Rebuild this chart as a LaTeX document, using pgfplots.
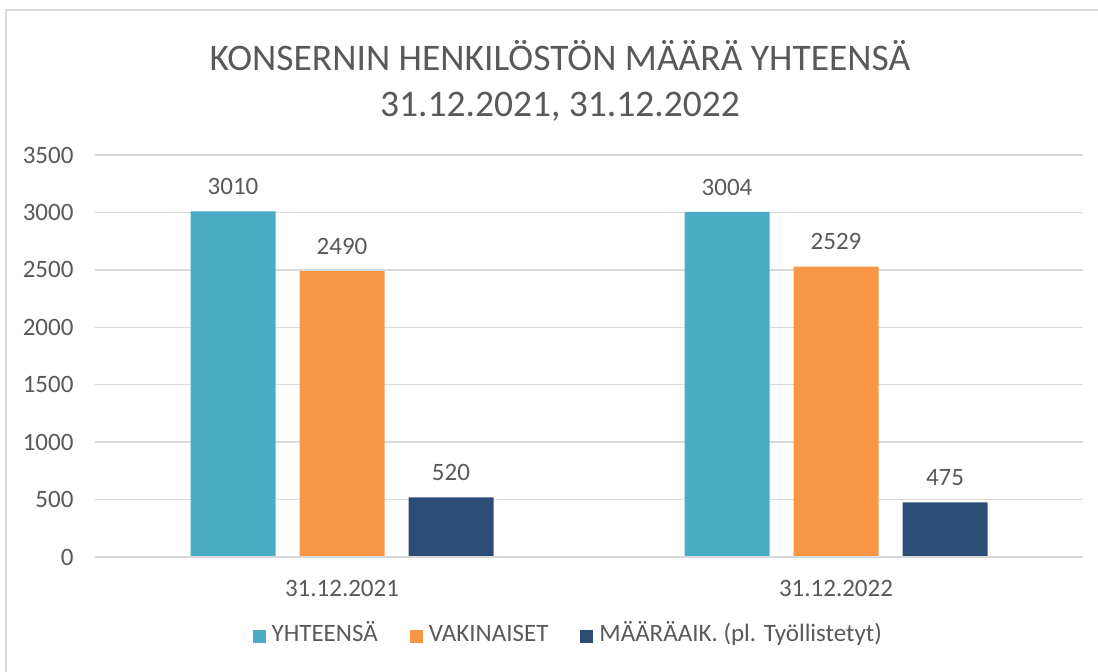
\documentclass[border=0pt]{standalone}
\usepackage{pgfplots}
\pgfplotsset{compat=1.18}
\usepackage{fontspec}
\setmainfont{Carlito}
\definecolor{txt}{RGB}{89,89,89}
\definecolor{gridc}{RGB}{217,217,217}
\definecolor{cTot}{RGB}{75,172,198}
\definecolor{cPerm}{RGB}{247,150,70}
\definecolor{cTemp}{RGB}{44,77,117}
\begin{document}
\begin{tikzpicture}[x=1pt,y=1pt]
\useasboundingbox (0,0) rectangle (1098,672);
\draw[gridc, line width=2pt] (6,0) -- (6,662) -- (1098,662);
\node[txt, font=\fontsize{37.5}{46}\selectfont, align=center, anchor=center] at (560,591)
  {KONSERNIN HENKILÖSTÖN MÄÄRÄ YHTEENSÄ\\31.12.2021, 31.12.2022};
\begin{axis}[
  at={(95pt,115pt)}, anchor=south west,
  scale only axis, width=988pt, height=402pt,
  ybar=24pt, bar width=85pt,
  xmin=-0.5, xmax=1.5, ymin=0, ymax=3500,
  xtick={0,1}, xticklabels={31.12.2021,31.12.2022},
  ytick={0,500,...,3500},
  major tick length=0pt,
  axis line style={draw=none},
  axis x line*=bottom,
  ymajorgrids, grid style={gridc, line width=1.5pt},
  tick label style={txt, font=\fontsize{25}{30}\selectfont},
  /pgf/number format/assume math mode=true,
  /pgf/number format/1000 sep={},
  yticklabel style={xshift=-18pt},
  xticklabel style={yshift=-20pt},
  nodes near coords,
  every node near coord/.append style={txt, font=\fontsize{25}{30}\selectfont, yshift=13pt},
  legend columns=3,
  legend style={draw=none, fill=none, at={(axis description cs:0.479,-0.2015)}, anchor=center,
    font=\fontsize{25}{30}\selectfont, text=txt,
    nodes={text height=0.72em, text depth=0.25em},
    /tikz/every odd column/.append style={column sep=4pt},
    /tikz/every even column/.append style={column sep=30pt}},
  legend cell align=left,
  legend image code/.code={\fill[#1] (0pt,-4pt) rectangle (13pt,9pt);},
]
\addplot[fill=cTot, draw=none] coordinates {(0,3010) (1,3004)};
\addplot[fill=cPerm, draw=none] coordinates {(0,2490) (1,2529)};
\addplot[fill=cTemp, draw=none] coordinates {(0,520) (1,475)};
\legend{YHTEENSÄ, VAKINAISET, MÄÄRÄAIK. (pl. Työllistetyt)}
\end{axis}
\draw[gridc, line width=1.5pt] (95,115) -- (1083,115);
\end{tikzpicture}
\end{document}
